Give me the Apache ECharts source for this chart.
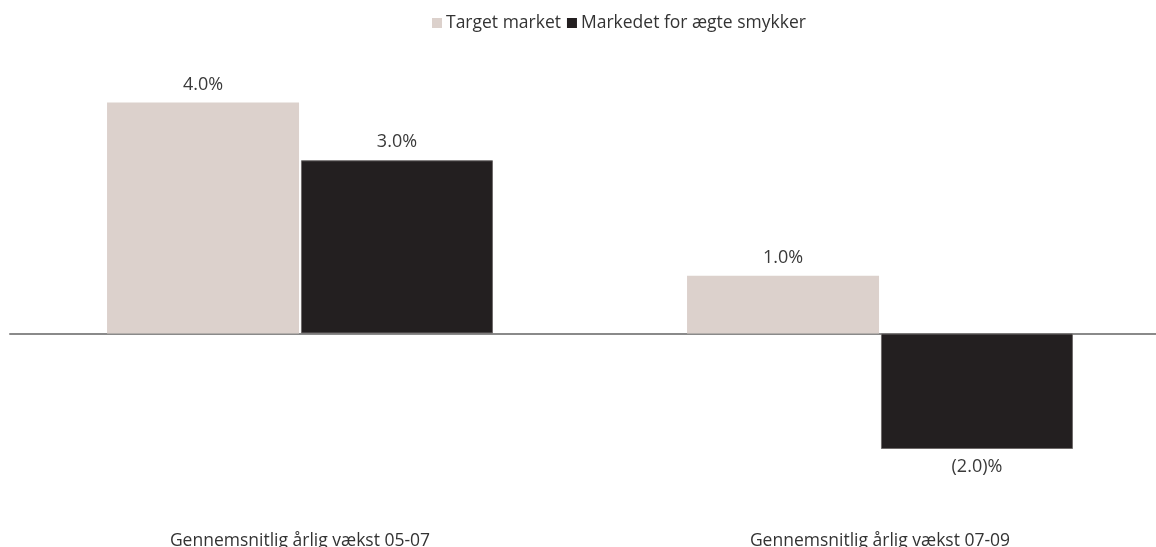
<!DOCTYPE html>
<html>
<head>
<meta charset="utf-8">
<script src="https://cdn.jsdelivr.net/npm/echarts@6/dist/echarts.min.js"></script>
<style>
  html, body { margin: 0; padding: 0; background: #ffffff; }
  #chart { width: 1156px; height: 547px; }
</style>
</head>
<body>
<div id="chart"></div>
<script>
// Growth periods and the two markets compared
const categories = ['Gennemsnitlig årlig vækst 05-07', 'Gennemsnitlig årlig vækst 07-09'];
const targetMarket = [4.0, 1.0];
const jewelleryMarket = [3.0, -2.0];
const seriesNames = ['Target market', 'Markedet for ægte smykker'];

const FONT = '"Open Sans", Lato, sans-serif';

// Negative values shown in accounting style, e.g. (2.0)%
function pct(v) {
  return v < 0 ? '(' + Math.abs(v).toFixed(1) + ')%' : v.toFixed(1) + '%';
}

const chart = echarts.init(document.getElementById('chart'), null, { renderer: 'canvas' });

const labelStyle = {
  show: true,
  fontFamily: FONT,
  fontSize: 18,
  color: '#3a3a3a',
  distance: 9,
  formatter: p => pct(p.value)
};

chart.setOption({
  animation: false,
  backgroundColor: '#ffffff',
  legend: {
    top: 9,
    left: 427,
    itemWidth: 10,
    itemHeight: 10,
    itemGap: 6,
    icon: 'rect',
    itemStyle: { borderWidth: 0 },
    textStyle: { fontFamily: FONT, fontSize: 17.5, color: '#333333', padding: [0, 0, 0, -1] },
    data: seriesNames
  },
  grid: {
    left: 10, top: 44.75, width: 1160, height: 462,
    containLabel: false,
    outerBoundsMode: 'none'
  },
  xAxis: {
    type: 'category',
    data: categories,
    axisLine: { show: true, onZero: true, lineStyle: { color: '#8a8a8a', width: 2 } },
    axisTick: { show: false },
    axisLabel: {
      interval: 0,
      hideOverlap: false,
      margin: 25,
      fontFamily: FONT,
      fontSize: 17.5,
      color: '#333333'
    }
  },
  yAxis: {
    type: 'value',
    min: -3,
    max: 5,
    show: false,
    splitLine: { show: false }
  },
  series: [
    {
      name: seriesNames[0],
      type: 'bar',
      data: targetMarket,
      barWidth: 192,
      barGap: '1%',
      itemStyle: { color: '#dcd1cc' },
      label: Object.assign({}, labelStyle, { position: 'top' })
    },
    {
      name: seriesNames[1],
      type: 'bar',
      data: jewelleryMarket.map(v => ({
        value: v,
        label: Object.assign({}, labelStyle, { position: v < 0 ? 'bottom' : 'top' })
      })),
      barWidth: 192,
      barGap: '1%',
      itemStyle: { color: '#231f20', borderColor: '#6e6a6a', borderWidth: 1 },
      label: labelStyle
    }
  ]
});
</script>
</body>
</html>
